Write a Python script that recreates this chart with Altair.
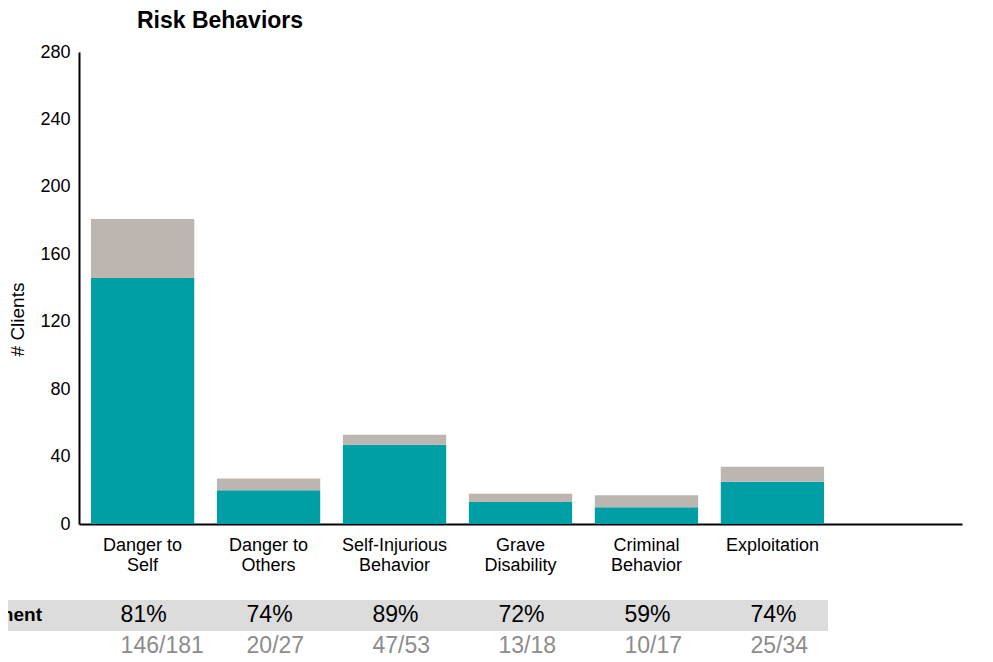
import altair as alt
import pandas as pd

categories = ["Danger to Self", "Danger to Others", "Self-Injurious Behavior",
              "Grave Disability", "Criminal Behavior", "Exploitation"]
label_lines = [["Danger to", "Self"], ["Danger to", "Others"], ["Self-Injurious", "Behavior"],
               ["Grave", "Disability"], ["Criminal", "Behavior"], ["Exploitation"]]
improved = [146, 20, 47, 13, 10, 25]
total = [181, 27, 53, 18, 17, 34]
pct_labels = ["81%", "74%", "89%", "72%", "59%", "74%"]
frac_labels = ["146/181", "20/27", "47/53", "13/18", "10/17", "25/34"]
y_ticks = [0, 40, 80, 120, 160, 200, 240, 280]

TEAL = "#009EA5"
GRAY = "#BDB5AF"

rows = []
for c, i, t in zip(categories, improved, total):
    rows.append({"category": c, "segment": "Improved", "value": i, "ord": 0})
    rows.append({"category": c, "segment": "Not improved", "value": t - i, "ord": 1})
long_df = pd.DataFrame(rows)

table_df = pd.DataFrame({"category": categories, "pct": pct_labels, "frac": frac_labels})
one = pd.DataFrame({"a": [0]})

expr = "''"
for c, lines in reversed(list(zip(categories, label_lines))):
    arr = "[" + ",".join("'" + s + "'" for s in lines) + "]"
    expr = f"datum.label == '{c}' ? {arr} : ({expr})"

x_enc = alt.X(
    "category:N",
    scale=alt.Scale(domain=categories + [""], paddingInner=0.18, paddingOuter=0.095),
    axis=alt.Axis(title=None, labelExpr=expr, labelAngle=0, labelFontSize=18,
                  labelColor="black", labelPadding=12, labelLineHeight=20,
                  ticks=False, domainColor="black", domainWidth=2,
                  labelFont="Liberation Sans"),
)

bars = alt.Chart(long_df).mark_bar().encode(
    x=x_enc,
    y=alt.Y("value:Q", stack="zero",
            scale=alt.Scale(domain=[0, 280]),
            axis=alt.Axis(values=y_ticks, title="# Clients", grid=False, ticks=False,
                          labelFontSize=18, labelColor="black", labelPadding=9,
                          domainColor="black", domainWidth=2,
                          titleFontSize=19, titleFontWeight="normal", titleColor="black",
                          titleAngle=270, titleX=-62, titleY=267,
                          titleAlign="center", titleBaseline="middle",
                          labelFont="Liberation Sans", titleFont="Liberation Sans")),
    color=alt.Color("segment:N",
                    scale=alt.Scale(domain=["Improved", "Not improved"], range=[TEAL, GRAY]),
                    legend=None),
    order=alt.Order("ord:Q"),
)

band = alt.Chart(one).mark_rect(color="#DCDCDC").encode(
    x=alt.value(-79), x2=alt.value(749), y=alt.value(548), y2=alt.value(579)
)

pct_text = alt.Chart(table_df).mark_text(
    align="left", dx=-22, baseline="middle", fontSize=23, color="black",
    font="Liberation Sans"
).encode(x=x_enc, y=alt.value(563), text="pct:N")

frac_text = alt.Chart(table_df).mark_text(
    align="left", dx=-22, baseline="middle", fontSize=23, color="#8C8C8C",
    font="Liberation Sans"
).encode(x=x_enc, y=alt.value(594), text="frac:N")

row_label = alt.Chart(one).mark_text(
    align="right", baseline="middle", fontSize=19, fontWeight="bold", color="black",
    font="Liberation Sans", text="Improvement"
).encode(x=alt.value(-37), y=alt.value(563))

title = alt.Chart(one).mark_text(
    align="center", baseline="middle", fontSize=23, fontWeight="bold", color="black",
    font="Liberation Sans", text="Risk Behaviors"
).encode(x=alt.value(141), y=alt.value(-31))

chart = alt.layer(band, bars, pct_text, frac_text, row_label, title).properties(
    width=883, height=472,
    autosize="none",
    padding={"left": 71, "top": 44, "right": 20, "bottom": 134},
).configure(font="Liberation Sans").configure_view(strokeWidth=0, stroke="transparent")

chart.save("out.html", embed_options={"renderer": "svg", "actions": False})
